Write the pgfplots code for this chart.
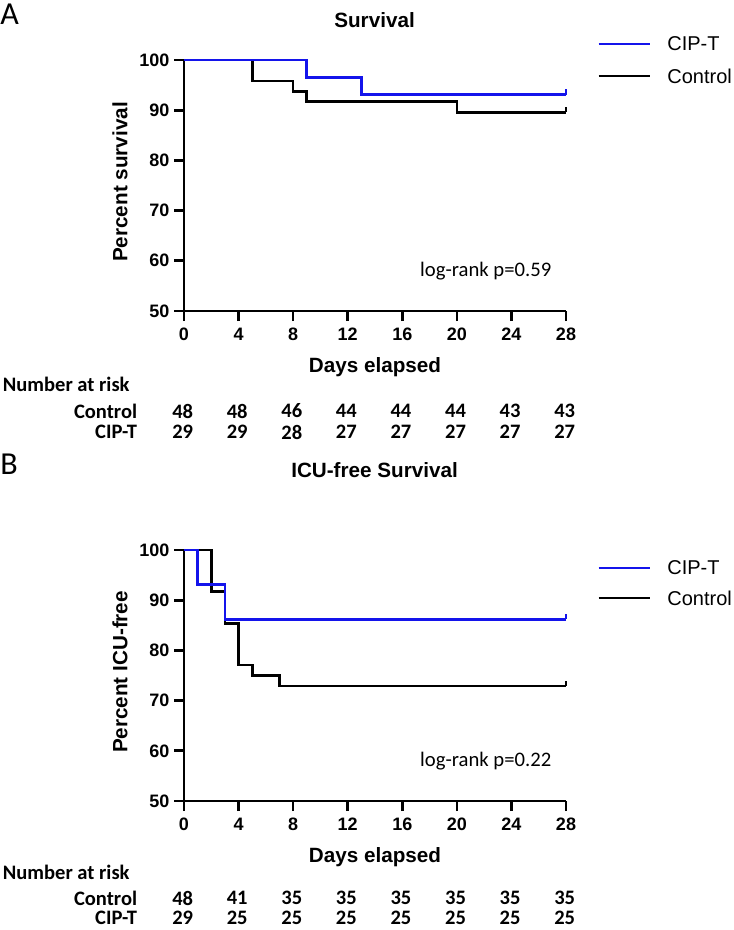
\documentclass[border=0pt]{standalone}
\usepackage{pgfplots}
\pgfplotsset{compat=1.18}
\usepackage{fontspec}
\setmainfont{Liberation Sans}
\newfontfamily\calib{Carlito}
\definecolor{kmblue}{RGB}{20,20,235}

\pgfplotsset{
  kmaxis/.style={
    scale only axis, width=286.5pt, height=188.25pt,
    xmin=0, xmax=28, ymin=50, ymax=100,
    axis lines=left, axis line style={-, line width=2pt},
    xtick={0,4,...,28}, ytick={50,60,...,100},
    tick align=outside, major tick length=7.5pt,
    tick style={line width=2pt, black},
    /pgf/number format/assume math mode=true,
    tick label style={font=\bfseries\fontsize{13.5}{15}\selectfont},
    xticklabel style={yshift=-2pt},
    label style={font=\bfseries\fontsize{15.5}{17}\selectfont},
    xlabel={Days elapsed},
    xlabel style={at={(axis description cs:0.5,-0.223)}, anchor=center},
    ylabel style={at={(axis description cs:-0.1675,0.514)}, anchor=center, rotate=0},
    clip=false,
  },
  kmline/.style={const plot, line width=2pt, no marks},
}
\tikzset{risk/.style={inner sep=0, font=\calib\bfseries\fontsize{15.4}{17}\selectfont}}

\begin{document}
\begin{tikzpicture}
\useasboundingbox (0,0) rectangle (549.75pt,-697.5pt);

% ---------------- Panel A ----------------
\node[anchor=west, inner sep=0, font=\calib\fontsize{24}{26}\selectfont] at (0pt,-10.5pt) {A};
\node[font=\bfseries\fontsize{15.5}{17}\selectfont] at (280.9pt,-15pt) {Survival};

\begin{axis}[kmaxis, at={(138pt,-233.25pt)}, anchor=south west, ylabel={Percent survival}]
\addplot[kmline, black] coordinates {(0,100) (5,95.83) (8,93.75) (9,91.67) (20,89.58) (28,89.58)};
\addplot[line width=2pt, black] coordinates {(28,89.58) (28,90.7)};
\addplot[kmline, kmblue] coordinates {(0,100) (9,96.55) (13,93.10) (28,93.10)};
\addplot[line width=2pt, kmblue] coordinates {(28,93.10) (28,94.2)};
\end{axis}

\draw[kmblue, line width=2pt] (449pt,-33pt) -- (487.5pt,-33pt);
\node[anchor=west, font=\fontsize{15}{17}\selectfont] at (497pt,-33pt) {CIP-T};
\draw[black, line width=2pt] (449pt,-57pt) -- (487.5pt,-57pt);
\node[anchor=west, font=\fontsize{15}{17}\selectfont] at (497pt,-57pt) {Control};

\node[anchor=east, font=\calib\fontsize{15.5}{17}\selectfont] at (417pt,-203.25pt) {log-rank p=0.59};

\node[anchor=west, risk] at (2pt,-288.5pt) {Number at risk};
\node[anchor=east, risk] at (103pt,-308.25pt) {Control};
\node[anchor=east, risk] at (103pt,-324pt) {CIP-T};
\foreach \v [count=\i from 0] in {48,48,46,44,44,44,43,43}
  \node[risk] at ({137pt+\i*40.9286pt},-308.25pt) {\v};
\foreach \v [count=\i from 0] in {29,29,28,27,27,27,27,27}
  \node[risk] at ({137pt+\i*40.9286pt},-324pt) {\v};

% ---------------- Panel B ----------------
\node[anchor=west, inner sep=0, font=\calib\fontsize{24}{26}\selectfont] at (0pt,-348pt) {B};
\node[font=\bfseries\fontsize{15.5}{17}\selectfont] at (280.9pt,-352.5pt) {ICU-free Survival};

\begin{axis}[kmaxis, at={(138pt,-600.75pt)}, anchor=south west, ylabel={Percent ICU-free}]
\addplot[kmline, black] coordinates {(0,100) (2,91.67) (3,85.42) (4,77.08) (5,75.00) (7,72.92) (28,72.92)};
\addplot[line width=2pt, black] coordinates {(28,72.92) (28,74.0)};
\addplot[kmline, kmblue] coordinates {(0,100) (1,93.10) (3,86.21) (28,86.21)};
\addplot[line width=2pt, kmblue] coordinates {(28,86.21) (28,87.3)};
\end{axis}

\draw[kmblue, line width=2pt] (449pt,-426pt) -- (487.5pt,-426pt);
\node[anchor=west, font=\fontsize{15}{17}\selectfont] at (497pt,-426pt) {CIP-T};
\draw[black, line width=2pt] (449pt,-448.5pt) -- (487.5pt,-448.5pt);
\node[anchor=west, font=\fontsize{15}{17}\selectfont] at (497pt,-448.5pt) {Control};

\node[anchor=east, font=\calib\fontsize{15.5}{17}\selectfont] at (417pt,-570.75pt) {log-rank p=0.22};

\node[anchor=west, risk] at (2pt,-654.5pt) {Number at risk};
\node[anchor=east, risk] at (103pt,-673.5pt) {Control};
\node[anchor=east, risk] at (103pt,-688.5pt) {CIP-T};
\foreach \v [count=\i from 0] in {48,41,35,35,35,35,35,35}
  \node[risk] at ({137pt+\i*40.9286pt},-673.5pt) {\v};
\foreach \v [count=\i from 0] in {29,25,25,25,25,25,25,25}
  \node[risk] at ({137pt+\i*40.9286pt},-688.5pt) {\v};
\end{tikzpicture}
\end{document}
